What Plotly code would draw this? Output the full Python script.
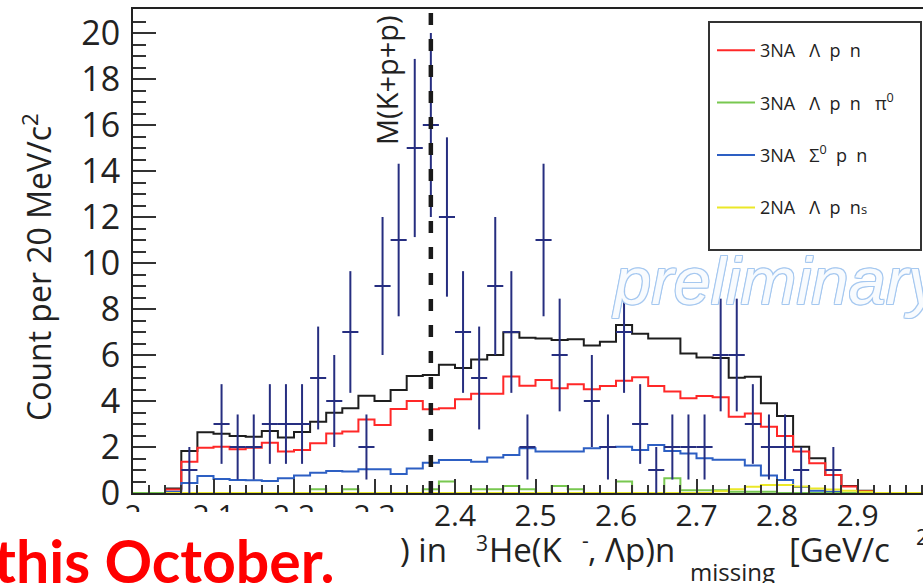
import numpy as np
import plotly.graph_objects as go

# ---------------- data (20 MeV bins from 2.00 to 3.00 GeV/c^2) ----------------
bin_width = 0.02
x_start = 2.0
n_bins = 50

counts = [0, 0, 0, 1, 0, 3, 2, 2, 3, 3,
          3, 5, 4, 7, 2, 9, 11, 15, 16, 12,
          7, 5, 9, 7, 2, 11, 6, 0, 4, 2,
          7, 3, 1, 2, 2, 2, 6, 6, 3, 2,
          2, 1, 0, 1, 0, 0, 0, 0, 0, 0]

total = [0, 0, 0.2, 1.83, 2.64, 2.58, 2.48, 2.45, 2.70, 2.41,
         2.65, 3.10, 3.49, 3.68, 4.23, 4.00, 4.48, 5.09, 5.13, 5.58,
         5.44, 5.80, 6.00, 6.99, 6.75, 6.72, 6.65, 6.68, 6.41, 6.58,
         7.30, 6.92, 6.72, 6.72, 6.06, 5.89, 5.87, 5.01, 5.05, 3.90,
         3.35, 2.01, 1.51, 0.78, 0.30, 0.10, 0, 0, 0, 0]

na3_lpn = [0, 0, 0.15, 1.36, 1.97, 2.01, 1.90, 1.97, 2.19, 1.80,
           1.87, 2.16, 2.59, 2.67, 3.20, 2.96, 3.65, 4.00, 3.64, 3.68,
           4.08, 4.32, 4.32, 5.06, 4.66, 4.91, 4.55, 4.73, 4.51, 4.65,
           4.88, 5.03, 4.65, 4.41, 4.12, 4.22, 4.16, 3.32, 3.46, 2.88,
           2.48, 1.80, 1.29, 0.78, 0.28, 0.08, 0, 0, 0, 0]

na3_lpnpi0 = [0, 0, 0, 0, 0, 0, 0, 0, 0, 0,
              0, 0.16, 0, 0.16, 0, 0, 0, 0, 0.16, 0.5,
              0, 0.16, 0.16, 0.3, 0.16, 0, 0.3, 0.16, 0, 0,
              0.5, 0, 0, 0.64, 0.12, 0.12, 0.12, 0.05, 0.05, 0.05,
              0, 0, 0, 0, 0, 0, 0, 0, 0, 0]

na3_s0pn = [0, 0, 0.05, 0.43, 0.74, 0.61, 0.57, 0.55, 0.52, 0.64,
            0.76, 0.88, 0.96, 0.93, 1.03, 1.03, 0.83, 1.07, 1.32, 1.43,
            1.43, 1.36, 1.54, 1.65, 1.95, 1.80, 1.80, 1.80, 1.95, 2.00,
            2.01, 1.87, 2.09, 1.83, 1.72, 1.51, 1.45, 1.45, 1.20, 0.76,
            0.57, 0.26, 0.10, 0.05, 0, 0, 0, 0, 0, 0]

na2_lpns = [None, None, 0, 0, 0, 0, 0, 0, 0, 0,
            0, 0, 0, 0, 0, 0, 0, 0, 0, 0,
            0, 0, 0, 0, 0, 0, 0, 0, 0, 0,
            0, 0, 0, 0, 0, 0, 0.08, 0.16, 0.27, 0.35,
            0.35, 0.28, 0.20, 0.15, 0.10, 0.05, 0, 0, 0, 0]

x_tick_vals = [2.0, 2.1, 2.2, 2.3, 2.4, 2.5, 2.6, 2.7, 2.8, 2.9]
x_tick_text = ["2", "2.1", "2.2", "2.3", "2.4", "2.5", "2.6", "2.7", "2.8", "2.9"]
y_tick_vals = [0, 2, 4, 6, 8, 10, 12, 14, 16, 18, 20]
y_tick_text = ["0", "2", "4", "6", "8", "10", "12", "14", "16", "18", "20"]

m_kpp = 2.370  # M(K+p+p) threshold

# ---------------- geometry ----------------
W, H = 923, 583
ML, MR, MT, MB = 133, 0, 9, 90
PW, PH = W - ML - MR, H - MT - MB
X_RANGE = [2.0, 2.0 + PW / 805.0]
Y_RANGE = [0, PH / 23.0]


def px(xpix):
    return (xpix - ML) / PW


def py(ypix):
    return (H - MB - ypix) / PH


edges = [x_start + bin_width * k for k in range(n_bins + 1)]
centers = [x_start + bin_width * (k + 0.5) for k in range(n_bins)]


def step(vals):
    return edges, list(vals) + [vals[-1]]


FONT = "Open Sans"
NAVY = "rgb(38,46,128)"

fig = go.Figure()

hist_specs = [
    (total, "#1e1e1e", None, False, 0),
    (na3_lpn, "rgb(255,40,40)", "3NA   \u039b  p  n", True, 1),
    (na3_s0pn, "rgb(45,95,195)", "3NA   \u03a3<sup>0</sup>  p  n", True, 3),
    (na3_lpnpi0, "rgb(120,200,80)", "3NA   \u039b  p  n   \u03c0<sup>0</sup>", True, 2),
    (na2_lpns, "rgb(235,232,40)", "2NA   \u039b  p  n<span style='font-size:13px'>s</span>", True, 4),
]
for vals, col, name, show, rank in hist_specs:
    xs, ys = step(vals)
    fig.add_trace(go.Scatter(
        x=xs, y=ys, mode="lines", line=dict(color=col, width=2, shape="hv"),
        name=name if name else "total", showlegend=show, legendrank=rank,
        legendgroup=str(rank), hoverinfo="skip"))

cx = [c for c, n in zip(centers, counts) if n > 0]
cy = [n for n in counts if n > 0]
cerr = list(np.sqrt(cy))
fig.add_trace(go.Scatter(
    x=cx, y=cy, mode="markers", showlegend=False,
    marker=dict(size=2, color=NAVY),
    error_y=dict(type="data", array=cerr, color=NAVY, thickness=2, width=0),
    error_x=dict(type="constant", value=bin_width / 2, color=NAVY, thickness=2, width=0)))

# threshold line
fig.add_shape(type="line", xref="x", yref="paper", x0=m_kpp, x1=m_kpp, y0=0, y1=1,
              line=dict(color="#1a1a1a", width=4.5, dash="12px,14px"), layer="above")

# legend frame
fig.add_shape(type="rect", xref="paper", yref="paper", x0=px(709), x1=px(921),
              y0=py(250), y1=py(22), line=dict(color="#333", width=2), layer="below")

# white cover over lower-left (slide overlay)
fig.add_shape(type="rect", xref="paper", yref="paper", x0=px(-20), x1=px(424),
              y0=py(600), y1=py(512), line=dict(width=0), fillcolor="white", layer="above")

ann = []
ann.append(dict(text="Count per 20 MeV/c<sup>2</sup>", textangle=-90, x=px(37), y=py(267),
                xanchor="center", yanchor="middle", font=dict(size=32, color="#222", family=FONT)))
ann.append(dict(text="M(K+p+p)", textangle=-90, x=px(386), y=py(80),
                xanchor="center", yanchor="middle", font=dict(size=29, color="#222", family=FONT)))
ann.append(dict(text="preliminary", x=px(610), y=py(280), xanchor="left", yanchor="middle",
                font=dict(size=67, color="rgba(255,255,255,0.92)", family="Liberation Sans",
                          style="italic",
                          shadow="1px 0 0 rgb(165,200,240), -1px 0 0 rgb(165,200,240), 0 1px 0 rgb(165,200,240), 0 -1px 0 rgb(165,200,240), 1px 1px 0 rgb(165,200,240), -1px -1px 0 rgb(165,200,240), 1px -1px 0 rgb(165,200,240), -1px 1px 0 rgb(165,200,240)")))
ann.append(dict(text="<b>this October.</b>", x=px(-8), y=py(560), xanchor="left", yanchor="middle",
                font=dict(size=59, color="rgb(255,0,0)", family="Lato")))
# x-axis title pieces
tf = dict(size=33, color="#222", family=FONT)
sf = dict(size=21, color="#222", family=FONT)
ann.append(dict(text=") in", x=px(398), y=py(549), xanchor="left", yanchor="middle", font=tf))
ann.append(dict(text="3", x=px(474), y=py(543), xanchor="left", yanchor="middle", font=sf))
ann.append(dict(text="He(K", x=px(487), y=py(549), xanchor="left", yanchor="middle", font=tf))
ann.append(dict(text="-", x=px(580), y=py(540), xanchor="left", yanchor="middle", font=sf))
ann.append(dict(text=", \u039bp)n", x=px(586), y=py(549), xanchor="left", yanchor="middle", font=tf))
ann.append(dict(text="missing", x=px(688), y=py(571), xanchor="left", yanchor="middle",
                font=dict(size=24, color="#222", family=FONT)))
ann.append(dict(text="[GeV/c", x=px(787), y=py(549), xanchor="left", yanchor="middle", font=tf))
ann.append(dict(text="2", x=px(914), y=py(537), xanchor="left", yanchor="middle", font=sf))
for a in ann:
    a.update(xref="paper", yref="paper", showarrow=False)

fig.update_layout(
    width=W, height=H, margin=dict(l=ML, r=MR, t=MT, b=MB, pad=0),
    paper_bgcolor="white", plot_bgcolor="white",
    annotations=ann,
    legend=dict(x=px(712), y=py(32), xanchor="left", yanchor="top",
                bgcolor="rgba(0,0,0,0)", borderwidth=0, tracegroupgap=26,
                itemwidth=38, font=dict(size=18, color="#222", family=FONT)),
    xaxis=dict(range=X_RANGE, showgrid=False, zeroline=False, showline=True,
               linecolor="#222", linewidth=2, mirror=True,
               ticks="inside", ticklen=14, tickwidth=2, tickcolor="#333",
               tickvals=x_tick_vals, ticktext=x_tick_text, ticklabelstandoff=-5,
               tickfont=dict(size=30, color="#222", family=FONT),
               minor=dict(ticks="inside", ticklen=8, tickwidth=2, tickcolor="#333",
                          dtick=0.02, tick0=2.0, showgrid=False)),
    yaxis=dict(range=Y_RANGE, showgrid=False, zeroline=False, showline=True,
               linecolor="#222", linewidth=2, mirror=False,
               ticks="inside", ticklen=23, tickwidth=2, tickcolor="#333",
               tickvals=y_tick_vals, ticktext=y_tick_text, ticklabelstandoff=4,
               tickfont=dict(size=34, color="#222", family=FONT),
               minor=dict(ticks="inside", ticklen=13, tickwidth=2, tickcolor="#333",
                          dtick=0.5, tick0=0, showgrid=False)),
)

fig.write_html("out.html")
